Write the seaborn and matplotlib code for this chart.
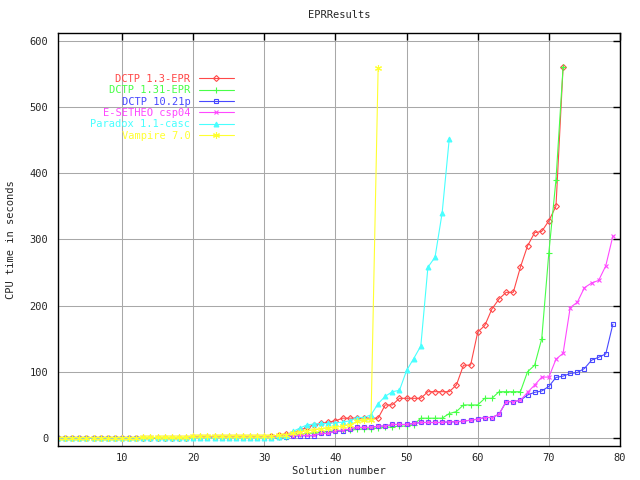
import matplotlib
matplotlib.use("Agg")
import matplotlib.pyplot as plt
import seaborn as sns
import pandas as pd

# CPU time per solution number
dctp_13 = [0, 0, 0, 0, 0, 0, 0, 0, 0, 0, 0, 0, 0.5, 0.5, 0.5, 0.5, 0.5, 0.5, 0.5, 2,
           2, 2, 2, 2, 2, 2, 2, 2, 2, 2, 3, 4, 6, 8, 12, 16, 20, 22, 24, 26,
           30, 30, 30, 30, 30, 30, 50, 50, 60, 60, 60, 60, 70, 70, 70, 70, 80, 110, 110, 160,
           170, 195, 210, 220, 220, 258, 290, 310, 312, 328, 350, 560]
dctp_131 = [0, 0, 0, 0, 0, 0, 0, 0, 0, 0, 0, 0, 0, 0, 0, 0, 0, 0, 0, 1,
            1, 1, 1, 1, 1, 1, 1, 1, 1, 1, 1, 1, 2, 4, 6, 7, 8, 9, 10, 11,
            12, 12, 13, 14, 14, 15, 16, 17, 18, 18, 20, 30, 30, 30, 30, 37, 40, 50, 50, 50,
            60, 60, 70, 70, 70, 70, 100, 110, 150, 280, 390, 560]
dctp_1021 = [0, 0, 0, 0, 0, 0, 0, 0, 0, 0, 0, 0, 0, 0, 0, 0, 0, 0, 0, 1,
             1, 1, 1, 1, 1, 1, 1, 1, 1, 1, 1, 2, 2, 3, 3.5, 3.5, 3.5, 7, 7, 10.5,
             10.5, 13.5, 16, 16, 16, 18, 18, 20.5, 20.5, 20.5, 22, 23.5, 23.5, 23.5, 23.5, 24.5, 24.5, 25.5, 27, 28.5,
             31, 31, 36, 55, 55, 57, 65, 69, 71, 78, 91.5, 93.5, 97.5, 99, 105, 117.5, 122, 127, 172]
esetheo = [0, 0, 0, 0, 0, 0, 0, 0, 0, 0, 0, 0, 0.5, 0.5, 0.5, 0.5, 0.5, 0.5, 0.5, 1.5,
           1.5, 1.5, 1.5, 1.5, 1.5, 1.5, 1.5, 1.5, 1.5, 1.5, 2, 2, 3, 3.5, 4, 4, 4, 7, 7, 10.5,
           12, 13.5, 16, 16, 16, 18, 18, 20.5, 20.5, 20.5, 22, 23.5, 23.5, 23.5, 23.5, 24.5, 24.5, 25.5, 27, 28.5,
           31, 31, 36, 55, 55, 57, 69, 80, 92, 92, 119, 128, 197, 205, 227, 234, 238, 260, 305]
paradox = [0, 0, 0, 0, 0, 0, 0, 0, 0, 0, 0, 0, 0, 0, 0, 0, 0, 0, 0, 0,
           0, 0, 0, 0, 0, 0, 0, 0, 0, 0, 0, 1, 3, 10, 15, 20, 21, 22, 22, 23,
           24, 26, 31, 31, 35, 52, 63, 70, 72, 102, 120, 139, 258, 273, 340, 452]
vampire = [0.5, 0.5, 0.5, 0.5, 0.5, 0.5, 0.5, 0.5, 0.5, 0.5, 0.5, 0.5, 1, 1, 1, 1, 1, 1, 1, 3,
           3, 3, 3, 3, 3, 3, 3, 3, 3, 3, 3, 4, 5, 7, 9, 11, 12, 14, 15, 16,
           18, 20, 25, 27, 28, 558]

series = [
    ("DCTP 1.3-EPR", dctp_13, "#ff4848", "D", 3),
    ("DCTP 1.31-EPR", dctp_131, "#48ff48", "+", 4.5),
    ("DCTP 10.21p", dctp_1021, "#4848ff", "s", 3.5),
    ("E-SETHEO csp04", esetheo, "#ff48ff", "x", 3.5),
    ("Paradox 1.1-casc", paradox, "#48ffff", "^", 3.5),
    ("Vampire 7.0", vampire, "#ffff30", (6, 2, 0), 5),
]

sns.set_style("white")
plt.rcParams["font.family"] = ["DejaVu Sans Mono"]

fig = plt.figure(figsize=(6.4, 4.8), dpi=100)
ax = fig.add_axes([58 / 640, 34 / 480, 562 / 640, 413 / 480])

for name, vals, color, marker, size in series:
    df = pd.DataFrame({"solution": range(1, len(vals) + 1), "cpu": vals})
    filled = marker == "^"
    sns.lineplot(data=df, x="solution", y="cpu", ax=ax, color=color, marker=marker,
                 markersize=size, markerfacecolor=color if filled else "none",
                 markeredgecolor=color, markeredgewidth=0.8, linewidth=0.8,
                 label=name, estimator=None, sort=False)

ax.set_xlim(1, 80)
ax.set_ylim(-12, 611.5)
ax.set_xticks(range(10, 81, 10))
ax.set_yticks(range(0, 601, 100))
ax.grid(True, color="#a8a8a8", linewidth=0.75)
ax.tick_params(direction="in", length=5, width=1, top=True, right=True,
               labelsize=7.5, color="black")
ax.tick_params(axis="x", pad=5)
ax.tick_params(axis="y", pad=7)
for sp in ax.spines.values():
    sp.set_color("black")
    sp.set_linewidth(1)

ax.set_title("EPRResults", fontsize=7.5, pad=11)
ax.set_xlabel("Solution number", fontsize=7.5, labelpad=2)
ax.set_ylabel("CPU time in seconds", fontsize=7.5, labelpad=10)

ax.legend(loc="upper right", bbox_to_anchor=(234 / 640, 1 - 74 / 480),
          bbox_transform=fig.transFigure, frameon=False, markerfirst=False,
          labelcolor="linecolor", fontsize=7.5, handlelength=3.4,
          handletextpad=0.8, labelspacing=0.13, borderpad=0, borderaxespad=0)

fig.savefig("out.png", dpi=100)
